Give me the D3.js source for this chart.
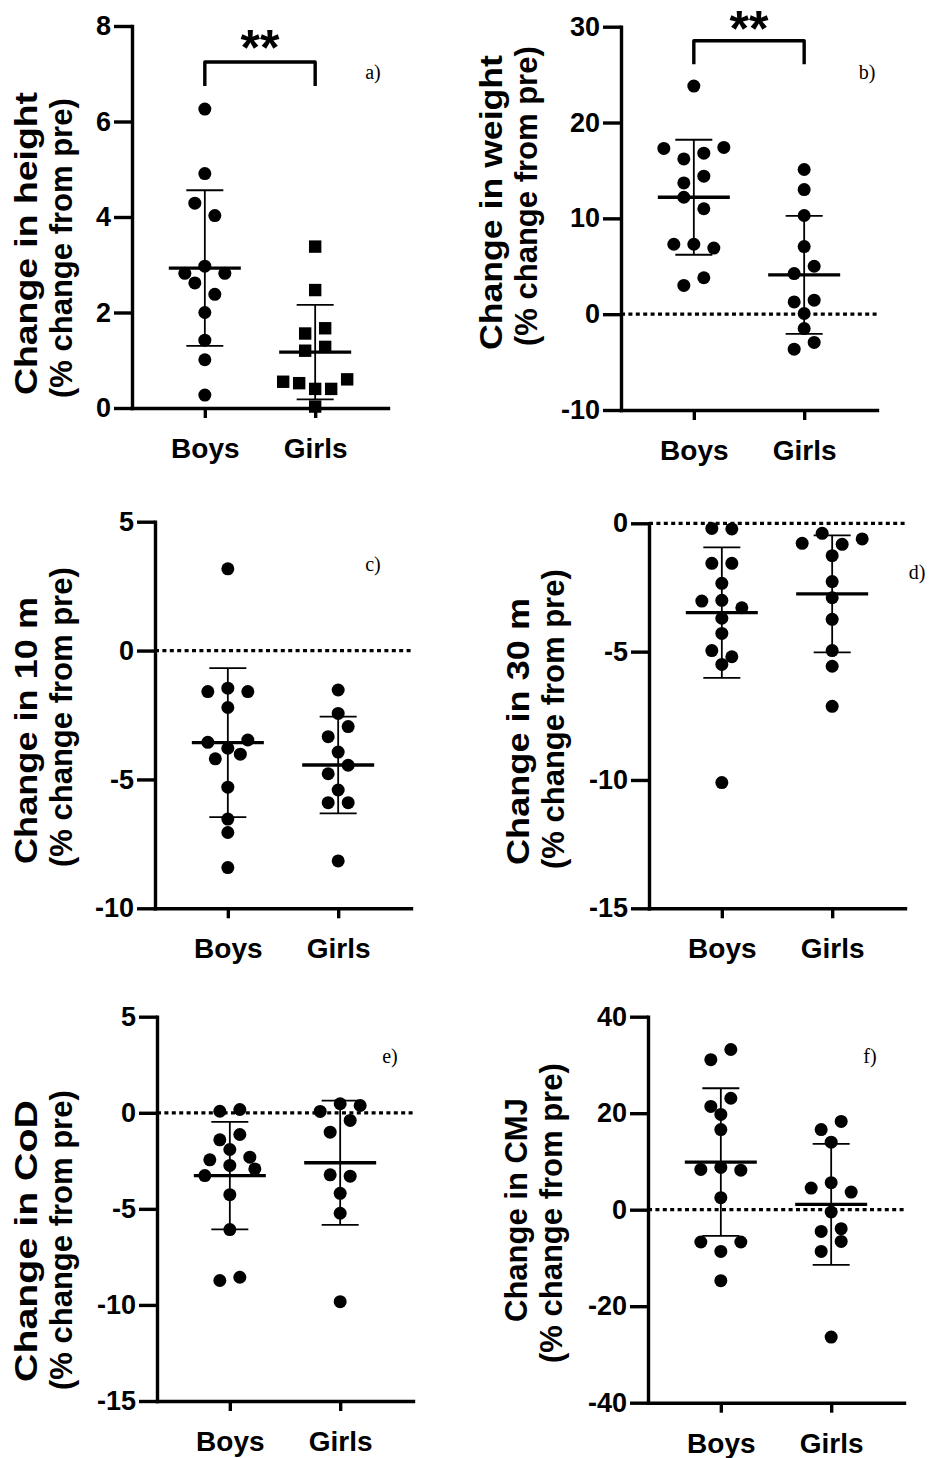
<!DOCTYPE html>
<html>
<head>
<meta charset="utf-8">
<script src="https://cdnjs.cloudflare.com/ajax/libs/d3/7.8.5/d3.min.js"></script>
<style>
  body { margin: 0; background: #fff; }
  svg { display: block; }
</style>
</head>
<body>
<div class="canvas"></div>
<script>
const groups = ["Boys", "Girls"];
const yTitleLine2 = "(% change from pre)";

// a) height
const heightBoys = [6.26, 4.91, 4.29, 4.03, 2.82, 2.97, 2.82, 2.62, 2.38, 2.00, 1.42, 1.01, 0.27];
const heightGirls = [3.38, 2.47, 1.56, 1.67, 1.20, 1.28, 0.55, 0.52, 0.40, 0.40, 0.60, 0.03];
const heightMean = [2.93, 1.17];
const heightSD = [1.63, 0.99];
const heightTicks = [0, 2, 4, 6, 8];

// b) weight
const weightBoys = [23.8, 17.3, 16.2, 16.8, 17.4, 13.7, 14.4, 12.2, 11.0, 7.3, 7.3, 6.9, 3.0, 3.8];
const weightGirls = [15.1, 13.0, 10.3, 7.05, 4.24, 5.0, 1.28, 1.46, 0.07, -1.5, -3.65, -2.95];
const weightMean = [12.2, 4.1];
const weightSD = [6.0, 6.15];
const weightTicks = [-10, 0, 10, 20, 30];

// c) 10 m sprint
const sprint10Boys = [3.17, -1.59, -1.46, -1.59, -2.21, -3.56, -3.79, -3.47, -4.2, -4.02, -5.30, -6.54, -7.06, -8.42];
const sprint10Girls = [-1.53, -2.44, -3.34, -2.95, -3.94, -4.78, -4.45, -5.41, -5.90, -5.90, -8.16];
const sprint10Mean = [-3.57, -4.44];
const sprint10SD = [2.89, 1.88];
const sprint10Ticks = [-10, -5, 0, 5];

// d) 30 m sprint
const sprint30Boys = [-0.2, -0.22, -1.56, -1.56, -2.34, -3.03, -3.0, -3.29, -3.70, -4.29, -4.96, -5.2, -5.50, -10.1];
const sprint30Girls = [-0.78, -0.39, -0.82, -0.61, -1.26, -2.27, -2.90, -3.74, -4.96, -5.57, -7.13];
const sprint30Mean = [-3.48, -2.75];
const sprint30SD = [2.54, 2.28];
const sprint30Ticks = [-15, -10, -5, 0];

// e) CoD
const codBoys = [0.08, 0.17, -1.41, -1.13, -2.45, -1.91, -2.31, -3.27, -2.74, -2.92, -4.26, -6.08, -8.73, -8.56];
const codGirls = [0.07, 0.47, 0.38, -1.01, -0.40, -3.23, -3.30, -4.19, -5.23, -9.83];
const codMean = [-3.27, -2.6];
const codSD = [2.8, 3.23];
const codTicks = [-15, -10, -5, 0, 5];

// f) CMJ
const cmjBoys = [31.1, 33.2, 21.4, 23.1, 19.75, 16.6, 8.35, 8.77, 8.2, 2.49, -6.7, -8.64, -6.7, -14.7];
const cmjGirls = [16.6, 18.3, 14.0, 4.48, 5.6, 3.65, -0.48, -4.5, -3.94, -8.64, -6.57, -26.4];
const cmjMean = [9.87, 1.1];
const cmjSD = [15.3, 12.55];
const cmjTicks = [-40, -20, 0, 20, 40];

const SANS = "'Liberation Sans', Arial, sans-serif";
const SERIF = "'Liberation Serif', 'Times New Roman', serif";

// layout per panel; l1/l2 = bottom end of each title line, l1len = stretched length of line 1
const panels = [
  { title: "Change in height", tag: "a)", boys: heightBoys, girls: heightGirls, mean: heightMean, sd: heightSD,
    domain: [0, 8], ticks: heightTicks, zero: false, squares: true,
    x0: 132, top: 26, bottom: 408, labelX: 37, l1: 395, l1len: 303, l2: 398, tagX: 373, tagY: 79,
    sig: { top: 62, leg: 86, starY: 65 } },
  { title: "Change in weight", tag: "b)", boys: weightBoys, girls: weightGirls, mean: weightMean, sd: weightSD,
    domain: [-10, 30], ticks: weightTicks, zero: true,
    x0: 621, top: 26.7, bottom: 410, labelX: 502, l1: 350, l1len: 295, l2: 346, tagX: 867, tagY: 79,
    sig: { top: 40.7, leg: 64.3, starY: 46 } },
  { title: "Change in 10 m", tag: "c)", boys: sprint10Boys, girls: sprint10Girls, mean: sprint10Mean, sd: sprint10SD,
    domain: [-10, 5], ticks: sprint10Ticks, zero: true,
    x0: 155, top: 521.7, bottom: 908.3, labelX: 37, l1: 864, l1len: 267, l2: 867, tagX: 373, tagY: 571 },
  { title: "Change in 30 m", tag: "d)", boys: sprint30Boys, girls: sprint30Girls, mean: sprint30Mean, sd: sprint30SD,
    domain: [-15, 0], ticks: sprint30Ticks, zero: true,
    x0: 649, top: 523.3, bottom: 908.3, labelX: 529, l1: 865, l1len: 267, l2: 869, tagX: 917, tagY: 579 },
  { title: "Change in CoD", tag: "e)", boys: codBoys, girls: codGirls, mean: codMean, sd: codSD,
    domain: [-15, 5], ticks: codTicks, zero: true,
    x0: 157, top: 1016.7, bottom: 1401, labelX: 37, l1: 1382, l1len: 282, l2: 1390, tagX: 390, tagY: 1063 },
  { title: "Change in CMJ", tag: "f)", boys: cmjBoys, girls: cmjGirls, mean: cmjMean, sd: cmjSD,
    domain: [-40, 40], ticks: cmjTicks, zero: true,
    x0: 648, top: 1016.7, bottom: 1402.7, labelX: 527, l1: 1322, l1len: null, l2: 1363, tagX: 870, tagY: 1063 },
];

// Prism-like scatter: close values share a row and are spread symmetrically
function swarm(values, y) {
  const D = 12, T = 12.5, step = 20, maxHalf = 32;
  const order = d3.range(values.length).sort((a, b) => y(values[a]) - y(values[b]) || a - b);
  const rows = [];
  order.forEach(i => {
    const r = rows[rows.length - 1];
    if (r && y(values[i]) - r.y0 < T) r.items.push(i);
    else rows.push({ y0: y(values[i]), items: [i] });
  });
  const placed = [];
  const dx = new Array(values.length).fill(0);
  rows.forEach(r => {
    const items = r.items.slice().sort((a, b) => a - b);
    const n = items.length;
    const hits = offs => items.some((i, k) =>
      placed.some(p => Math.hypot(p.x - offs[k], p.y - y(values[i])) < D));
    let offs;
    if (n === 1) {
      const c = [0, -10, 10, -20, 20, -30, 30].find(c => !hits([c]));
      offs = [c === undefined ? 0 : c];
    } else {
      const w = Math.min(step, 2 * maxHalf / (n - 1));
      for (const f of [1, 1.25, 1.5, 1.75, 2]) {
        offs = items.map((_, k) => (k - (n - 1) / 2) * w * f);
        if (!hits(offs)) break;
      }
    }
    items.forEach((i, k) => {
      dx[i] = offs[k];
      placed.push({ x: offs[k], y: y(values[i]) });
    });
  });
  return dx;
}

const svg = d3.select(".canvas").append("svg")
  .attr("width", 929)
  .attr("height", 1458)
  .style("background", "#fff");

panels.forEach(p => {
  const g = svg.append("g");
  const y = d3.scaleLinear().domain(p.domain).range([p.bottom, p.top]);
  const x = d3.scalePoint().domain(groups).range([p.x0, p.x0 + 256]).padding(0.66);

  if (p.zero) {
    g.append("line")
      .attr("x1", p.x0).attr("x2", p.x0 + 256)
      .attr("y1", y(0)).attr("y2", y(0))
      .style("stroke", "#000")
      .style("stroke-width", 3.2)
      .style("stroke-dasharray", "4 3.4");
  }

  const yAxis = g.append("g")
    .attr("transform", `translate(${p.x0},0)`)
    .call(d3.axisLeft(y).tickValues(p.ticks).tickSize(18).tickSizeOuter(0).tickPadding(3)
      .tickFormat(d => String(d)));
  const xAxis = g.append("g")
    .attr("transform", `translate(0,${p.bottom})`)
    .call(d3.axisBottom(x).tickSize(10).tickSizeOuter(0));

  [yAxis, xAxis].forEach(a => {
    a.select(".domain").style("stroke", "#000").style("stroke-width", 3.4).style("stroke-linecap", "square");
    a.selectAll(".tick line").style("stroke", "#000").style("stroke-width", 3.4);
    a.selectAll("text")
      .attr("fill", "#000")
      .style("font-family", SANS)
      .style("font-weight", "bold");
  });
  yAxis.selectAll("text").style("font-size", "27px");
  xAxis.selectAll("text").attr("dy", null).attr("y", 50).style("font-size", "28px");

  groups.forEach((name, gi) => {
    const cx = x(name), m = p.mean[gi], s = p.sd[gi];
    const eb = g.append("g").style("stroke", "#000");
    eb.append("line").attr("x1", cx).attr("x2", cx).attr("y1", y(m + s)).attr("y2", y(m - s)).style("stroke-width", 1.8);
    [m + s, m - s].forEach(v => {
      eb.append("line").attr("x1", cx - 18.5).attr("x2", cx + 18.5).attr("y1", y(v)).attr("y2", y(v)).style("stroke-width", 1.8);
    });

    const vals = gi === 0 ? p.boys : p.girls;
    const dx = swarm(vals, y);
    if (p.squares && gi === 1) {
      g.append("g").selectAll("rect").data(vals).join("rect")
        .attr("x", (d, i) => cx + dx[i] - 6.2)
        .attr("y", d => y(d) - 6.2)
        .attr("width", 12.4).attr("height", 12.4)
        .attr("fill", "#000");
    } else {
      g.append("g").selectAll("circle").data(vals).join("circle")
        .attr("cx", (d, i) => cx + dx[i])
        .attr("cy", d => y(d))
        .attr("r", 6.5)
        .attr("fill", "#000");
    }

    eb.append("line").attr("x1", cx - 36).attr("x2", cx + 36).attr("y1", y(m)).attr("y2", y(m)).style("stroke-width", 3.4);
  });

  if (p.sig) {
    const x1 = x(groups[0]), x2 = x(groups[1]);
    g.append("path")
      .attr("d", `M${x1},${p.sig.leg}V${p.sig.top}H${x2}V${p.sig.leg}`)
      .style("fill", "none")
      .style("stroke", "#000")
      .style("stroke-width", 3.4)
      .style("stroke-linejoin", "round");
    g.append("text")
      .attr("x", (x1 + x2) / 2)
      .attr("y", p.sig.starY)
      .attr("text-anchor", "middle")
      .style("font-family", SANS)
      .style("font-weight", "bold")
      .style("font-size", "50px")
      .text("**");
  }

  g.append("text")
    .attr("x", p.tagX)
    .attr("y", p.tagY)
    .attr("text-anchor", "middle")
    .style("font-family", SERIF)
    .style("font-size", "20px")
    .text(p.tag);

  // rotated two-line y title, both lines starting at the bottom
  const titleStyle = sel => sel
    .attr("text-anchor", "start")
    .style("font-family", SANS)
    .style("font-weight", "bold")
    .style("font-size", "31px");
  const t1 = g.append("text")
    .attr("transform", `translate(${p.labelX},${p.l1}) rotate(-90)`)
    .call(titleStyle)
    .text(p.title);
  if (p.l1len) t1.attr("textLength", p.l1len).attr("lengthAdjust", "spacingAndGlyphs");
  g.append("text")
    .attr("transform", `translate(${p.labelX + 35},${p.l2}) rotate(-90)`)
    .call(titleStyle)
    .text(yTitleLine2);
});
</script>
</body>
</html>
